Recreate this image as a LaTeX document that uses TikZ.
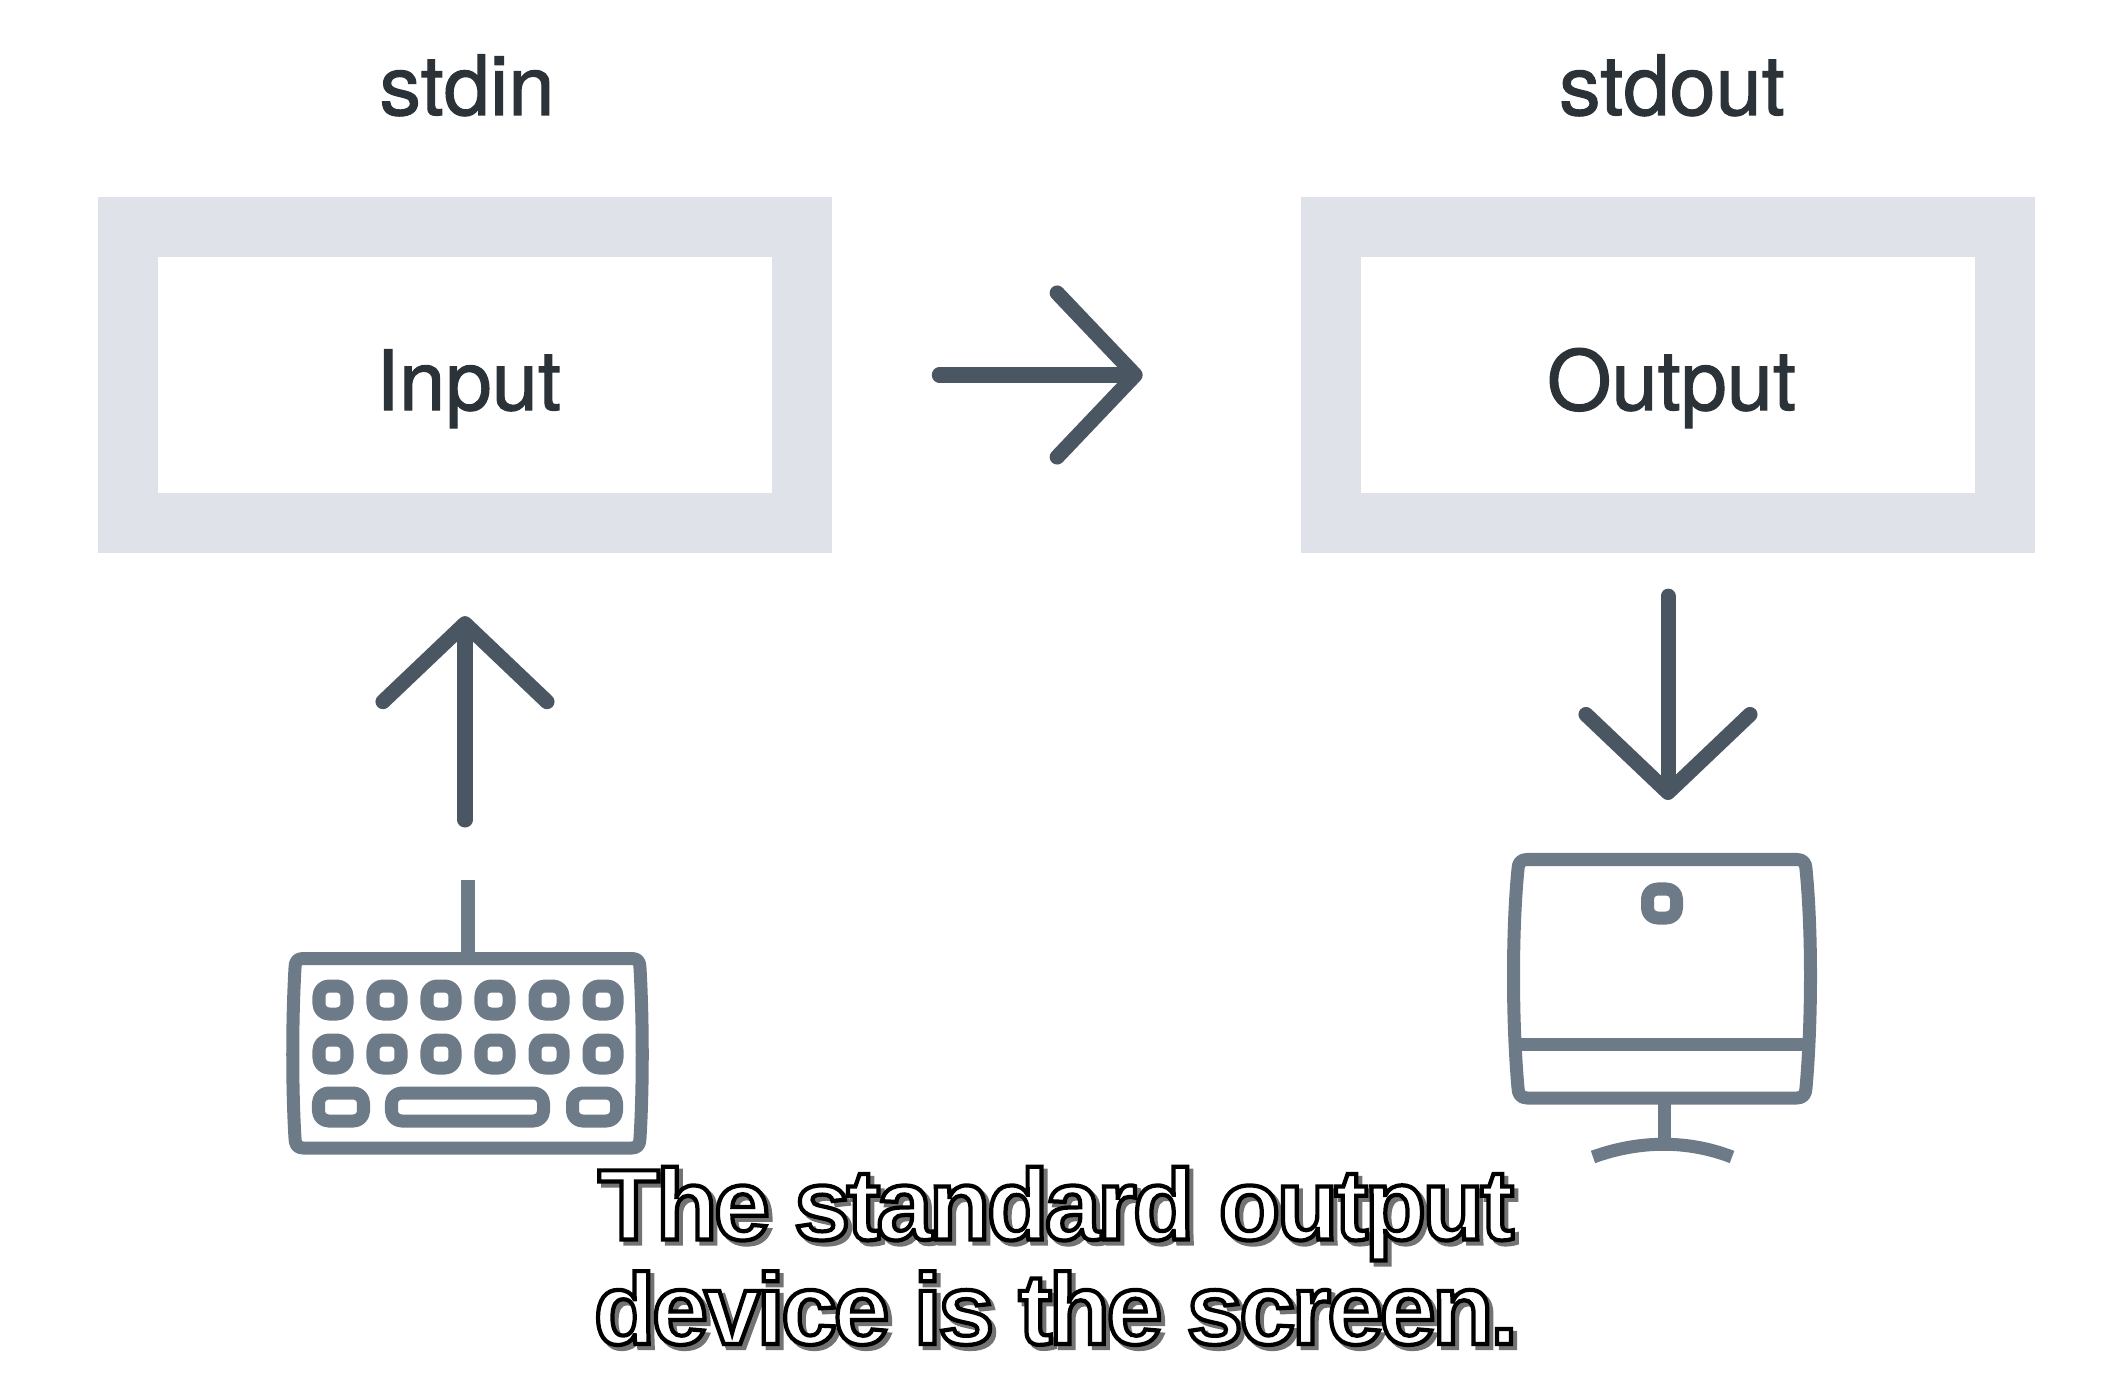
\documentclass[tikz,border=0pt]{standalone}
\usepackage{fontspec}
\setmainfont{TeX Gyre Heros}
\newfontfamily\subtitlefont[LetterSpace=-3.5]{Liberation Sans}
\usetikzlibrary{arrows.meta}
\definecolor{boxgray}{HTML}{DFE2E9}
\definecolor{arrowgray}{HTML}{4A5662}
\definecolor{icongray}{HTML}{6D7A88}
\newcommand{\outlined}[3]{\special{pdf:literal direct q 2 Tr #1 w #2}#3\special{pdf:literal direct Q}}
\newcommand{\labeltext}[1]{\outlined{0.3}{0.17 0.2 0.22 RG 0.17 0.2 0.22 rg}{#1}}
\begin{document}
\begin{tikzpicture}[
        x=0.01cm, y=-0.01cm,
        titletext/.style={anchor=base, font=\fontsize{23.6pt}{28pt}\selectfont},
        iobox/.style={draw=boxgray, line width=0.6cm, minimum width=6.74cm, minimum height=2.95cm,
            text height=0.7cm, text depth=0pt, font=\fontsize{23.6pt}{28pt}\selectfont,
            execute at begin node={\hspace*{0.07cm}}},
        flow/.style={draw=arrowgray, line width=0.15cm, line cap=round, line join=round,
            -{Straight Barb[length=0.78cm, width=1.64cm, round]}},
        icon/.style={draw=icongray, line width=0.13cm, line join=round},
        iconkey/.style={icon, rounded corners=0.1cm},
        subtitle/.style={anchor=base, align=center, font=\subtitlefont\bfseries\fontsize{28.6pt}{29.7pt}\selectfont}
    ]
        \useasboundingbox (0,0) rectangle (2108,1376);

        % Titles
        \node[titletext] (stdinlabel) at (467,115) {\labeltext{stdin}};
        \node[titletext] (stdoutlabel) at (1672,115) {\labeltext{stdout}};

        % Boxes
        \node[iobox] (inputbox) at (465,375) {\labeltext{Input}};
        \node[iobox] (outputbox) at (1668,375) {\labeltext{Output}};

        % Free ends of the arrows
        \coordinate (keyboardend) at (465,820);
        \coordinate (screenend) at (1668,800);

        % Arrows
        \draw[flow, shorten <=1.07cm, shorten >=1.58cm] (inputbox.east) -- (outputbox.west);
        \draw[flow, shorten >=0.635cm] (keyboardend) -- (inputbox.south);
        \draw[flow, shorten <=0.435cm] (outputbox.south) -- (screenend);

        % Keyboard
        \draw[icon] (468,880) -- (468,952);
        \draw[icon] (303,958.5) -- (632,958.5) .. controls (638,958.5) and (640,962) .. (640,968)
            .. controls (643,1020) and (643,1090) .. (640,1138) .. controls (640,1144) and (638,1148) .. (632,1148)
            -- (303,1148) .. controls (297,1148) and (295,1144) .. (295,1138)
            .. controls (292,1090) and (292,1020) .. (295,968) .. controls (295,962) and (297,958.5) .. (303,958.5) -- cycle;
        \foreach \keyx in {333,387,441,495,549,603}
            \foreach \keyy in {1000,1054}
                \draw[iconkey] (\keyx-14,\keyy-14) rectangle (\keyx+14,\keyy+14);
        \draw[iconkey] (318.5,1093) rectangle (363.5,1121);
        \draw[iconkey] (391.5,1093) rectangle (543.5,1121);
        \draw[iconkey] (572.5,1093) rectangle (616.5,1121);

        % Screen
        \draw[icon] (1527,859.5) -- (1797,859.5) .. controls (1803,859.5) and (1806,863) .. (1806,869)
            .. controls (1812,930) and (1812,1020) .. (1806,1088) .. controls (1806,1094) and (1803,1098) .. (1797,1098)
            -- (1527,1098) .. controls (1521,1098) and (1518,1094) .. (1518,1088)
            .. controls (1512,1020) and (1512,930) .. (1518,869) .. controls (1518,863) and (1521,859.5) .. (1527,859.5) -- cycle;
        \draw[icon] (1514,1044) -- (1810,1044);
        \draw[iconkey] (1647.5,889) rectangle (1676.5,918);
        \draw[icon] (1664,1098) -- (1664,1145);
        \draw[icon] (1593,1157) .. controls (1640,1140) and (1688,1140) .. (1732,1157);

        % Subtitles
        \node[subtitle] (subtitleback) at (1060,1348)
            {\outlined{1.2}{0.45 G 0.45 g}{The standard output\\device is the screen.}};
        \node[subtitle] (subtitlefront) at (1056,1344)
            {\outlined{1.2}{0 G 1 g}{The standard output\\device is the screen.}};
    \end{tikzpicture}
\end{document}
